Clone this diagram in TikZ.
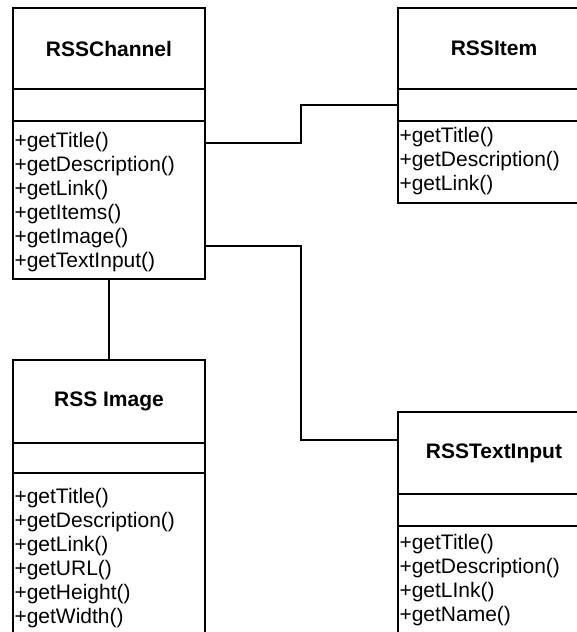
\documentclass[tikz,border=0pt]{standalone}
\usepackage{fontspec}
\setmainfont{Liberation Sans}
\usetikzlibrary{positioning}

\tikzset{
  cell/.style={draw, line width=1.5pt, minimum width=192pt, inner sep=0pt, outer sep=0pt},
  classname/.style={cell, font=\fontsize{21}{24}\selectfont\bfseries},
  ops/.style={inner sep=0pt, outer sep=0pt, align=left, anchor=north west, font=\fontsize{21}{24}\selectfont},
  link/.style={line width=1.5pt},
}

\begin{document}
\begin{tikzpicture}[x=1pt, y=-1pt]
    \useasboundingbox (0,0) rectangle (577,632);
    \clip (0,0) rectangle (577,632);
    % RSSChannel
    \node[classname, minimum height=81pt, anchor=north west] (chanT) at (13,8) {RSSChannel};
    \node[cell, minimum height=32pt, below=0pt of chanT] (chanA) {};
    \node[cell, minimum height=158pt, below=0pt of chanA] (chanM) {};
    \node[ops] (chanOps) at ([xshift=1.5pt, yshift=-11pt]chanM.north west)
        {+getTitle()\\+getDescription()\\+getLink()\\+getItems()\\+getImage()\\+getTextInput()};
    % RSSItem
    \node[classname, minimum height=81pt, anchor=north west] (itemT) at (398,8) {RSSItem};
    \node[cell, minimum height=32pt, below=0pt of itemT] (itemA) {};
    \node[cell, minimum height=82pt, below=0pt of itemA] (itemM) {};
    \node[ops] (itemOps) at ([xshift=1.5pt, yshift=-6pt]itemM.north west)
        {+getTitle()\\+getDescription()\\+getLink()};
    % RSS Image
    \node[classname, minimum height=83pt, anchor=north west] (imgT) at (13,360) {RSS Image};
    \node[cell, minimum height=30pt, below=0pt of imgT] (imgA) {};
    \node[cell, minimum height=200pt, below=0pt of imgA] (imgM) {};
    \node[ops] (imgOps) at ([xshift=1.5pt, yshift=-15pt]imgM.north west)
        {+getTitle()\\+getDescription()\\+getLink()\\+getURL()\\+getHeight()\\+getWidth()};
    % RSSTextInput
    \node[classname, minimum height=82pt, anchor=north west] (inpT) at (398,412) {RSSTextInput};
    \node[cell, minimum height=32pt, below=0pt of inpT] (inpA) {};
    \node[cell, minimum height=150pt, below=0pt of inpA] (inpM) {};
    \node[ops] (inpOps) at ([xshift=1.5pt, yshift=-8pt]inpM.north west)
        {+getTitle()\\+getDescription()\\+getLInk()\\+getName()};
    % links
    \coordinate (jog) at (301,0);
    \draw[link] (chanM.east |- 0,143) -| (jog |- itemA.west) -- (itemA.west);
    \draw[link] (chanM.east |- 0,246) -| (jog |- 0,440) -- (inpT.west |- 0,440);
    \draw[link] (chanM.south) -- (imgT.north);
\end{tikzpicture}
\end{document}
